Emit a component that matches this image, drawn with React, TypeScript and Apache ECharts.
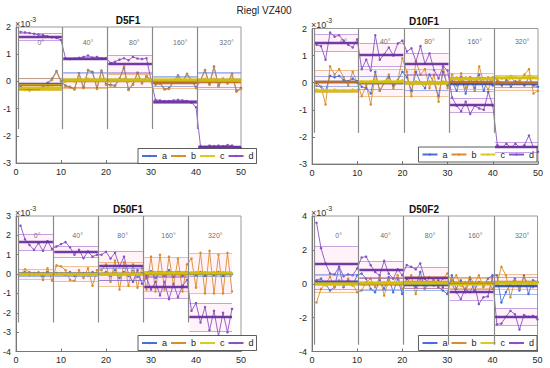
import React, { useEffect, useRef } from 'react';
import * as echarts from 'echarts';

const MAIN_TITLE = 'Riegl VZ400';
const PANEL_TITLES = ['D5F1', 'D10F1', 'D50F1', 'D50F2'];
const SERIES_NAMES = ['a', 'b', 'c', 'd'];
const ANGLE_LABELS = ['0°', '40°', '80°', '160°', '320°'];
const X_TICKS = [0, 10, 20, 30, 40, 50];

const X_50 = [1,2,3,4,5,6,7,8,9,10,11,12,13,14,15,16,17,18,19,20,21,22,23,24,25,26,27,28,29,30,31,32,33,34,35,36,37,38,39,40,41,42,43,44,45,46,47,48,49,50];
const X_48 = [1,2,3,4,5,6,7,8,9,10,11,12,13,14,15,16,17,18,19,20,21,22,23,24,25,26,27,28,29,30,31,32,33,34,35,36,37,38,39,40,41,42,43,44,45,46,47,48];

const SEG_50 = [[0.5, 10.2], [10.5, 20.2], [20.5, 30.2], [30.5, 40.2], [40.5, 50]];
const SEG_48 = [[0.5, 8.2], [8.5, 18.2], [18.5, 28.2], [28.5, 38.2], [38.5, 48]];
const SEP_50 = [0.5, 10.3, 20.3, 30.3, 40.3];
const SEP_48 = [0.4, 8.3, 18.3, 28.3, 38.3];

// ---------- D5F1 ----------
const D5F1_A = [-0.2,-0.25,-0.3,-0.3,-0.25,-0.2,-0.05,0.1,0.38,0.02,-0.15,-0.2,-0.28,0.3,-0.22,0.42,0.35,-0.25,0.4,-0.1,-0.12,-0.15,0.1,0.5,-0.3,-0.1,0.32,-0.05,0.2,0.05,-0.1,-0.05,-0.28,-0.25,0,0.22,0,0.28,0.05,-0.22,0.05,0.42,-0.1,0.55,-0.15,0.1,-0.05,0.28,-0.35,-0.25];
const D5F1_B = [-0.25,-0.3,-0.32,-0.28,-0.3,-0.22,-0.1,0.05,0.35,0,-0.18,-0.22,-0.3,0.28,-0.25,0.4,0.32,-0.28,0.38,-0.12,-0.15,-0.18,0.08,0.55,-0.32,-0.12,0.3,-0.08,0.18,0.02,-0.12,-0.08,-0.3,-0.28,-0.02,0.2,-0.02,0.26,0.02,-0.25,0.02,0.4,-0.12,0.52,-0.18,0.08,-0.08,0.25,-0.38,-0.28];
const D5F1_C = [-0.3,-0.32,-0.35,-0.3,-0.28,-0.25,-0.2,-0.15,-0.1,-0.15,0,0.05,0,0.1,0.05,0.1,0.05,0,0.1,0.05,0,0.05,0.05,0.1,0,0.05,0.1,0.05,0.05,0,0.05,0,0.05,0,0.05,0.1,0.05,0.05,0,0.05,0.05,0.1,0,0.1,0.05,0.05,0,0.1,0,0.05];
const D5F1_D = [1.82,1.8,1.78,1.75,1.72,1.7,1.66,1.62,1.6,1.52,0.85,0.82,0.84,0.87,0.9,0.95,0.88,0.9,0.85,0.86,0.68,0.72,0.8,0.85,0.78,0.9,0.84,0.82,0.85,0.05,-0.68,-0.7,-0.72,-0.72,-0.7,-0.68,-0.7,-0.72,-0.78,-0.95,-2.38,-2.4,-2.36,-2.38,-2.36,-2.38,-2.34,-2.36,-2.42,-2.45];
const D5F1_MEAN_A = [-0.1, 0.05, 0.05, 0, 0.05];
const D5F1_STD_A = [0.2, 0.28, 0.25, 0.18, 0.28];
const D5F1_MEAN_B = [-0.12, 0.02, 0.02, -0.05, 0];
const D5F1_STD_B = [0.22, 0.28, 0.25, 0.2, 0.3];
const D5F1_MEAN_C = [-0.22, 0.05, 0.05, 0.05, 0.05];
const D5F1_STD_C = [0.1, 0.05, 0.05, 0.05, 0.05];
const D5F1_MEAN_D = [1.65, 0.85, 0.65, -0.75, -2.4];
const D5F1_STD_D = [0.13, 0.05, 0.3, 0.05, 0.03];

// ---------- D10F1 ----------
const D10F1_A = [0,-0.15,-0.3,0.25,0.2,0.25,0.1,0.05,0.15,0.05,-0.15,-0.2,-0.4,0.4,-0.3,0,0.2,-0.1,0.1,0.4,0.2,-0.3,0.4,0,-0.2,0.3,0,-0.5,0.4,-0.1,0.05,-0.3,0.2,-0.4,0.2,-0.2,0.3,-0.3,0.2,-0.1,0.05,-0.1,0.1,-0.15,0.05,0,-0.1,0.2,-0.1,-0.15];
const D10F1_B = [-0.1,-0.15,-0.8,0.6,0.3,0.5,0.2,-0.1,0.4,0,-0.5,-0.1,-0.8,0.3,-0.3,0,0.3,-0.2,0.1,0.9,0.4,-0.5,0.8,0.3,0.5,-0.2,0.3,-0.7,0.6,-0.2,0.3,-0.1,0.35,-0.2,0.2,-0.3,0.6,0,-0.25,0.2,0.1,0,-0.05,0.2,0,0.1,0.3,0.5,-0.4,-0.3];
const D10F1_C = [-0.25,-0.3,-0.28,-0.3,-0.25,-0.3,-0.28,-0.3,-0.25,-0.28,0.05,0,0.05,0.1,0,0.05,0.1,0,0.05,0.1,0,-0.05,0.05,0,-0.05,0.05,0,-0.05,0.05,0,0.15,0.2,0.1,0.2,0.15,0.1,0.2,0.15,0.2,0.1,0.2,0.15,0.2,0.25,0.2,0.15,0.2,0.25,0.2,0.15];
const D10F1_D = [1.4,1.35,0.85,1.85,1.7,1.75,1.55,1.4,1.3,1.6,0.5,0.85,0.45,1.75,0.85,1.05,1.3,1,1.45,1.55,1.15,1.27,0.78,1.35,0.7,1.08,0.47,0.16,0.6,0.45,-0.55,-0.85,-1.05,-0.7,-1.15,-0.85,-0.95,-1,-0.35,-0.85,-2.3,-2.4,-2.25,-2.4,-2.25,-2.4,-2.3,-1.95,-2.4,-2.55];
const D10F1_MEAN_A = [0.05, 0, 0, -0.05, -0.05];
const D10F1_STD_A = [0.18, 0.25, 0.28, 0.25, 0.1];
const D10F1_MEAN_B = [0.05, 0, 0, 0.05, 0];
const D10F1_STD_B = [0.4, 0.5, 0.5, 0.3, 0.28];
const D10F1_MEAN_C = [-0.28, 0.05, 0, 0.15, 0.2];
const D10F1_STD_C = [0.03, 0.04, 0.04, 0.04, 0.04];
const D10F1_MEAN_D = [1.47, 1.03, 0.7, -0.82, -2.38];
const D10F1_STD_D = [0.3, 0.42, 0.38, 0.26, 0.17];

// ---------- D50F1 ----------
const D50F1_A = [0,0.1,-0.05,0.05,0,-0.1,0.1,-0.05,0.05,0,-0.05,0.1,-0.1,0,0.05,-0.05,0.1,0,0,0.1,-0.1,0.2,-0.2,0.1,-0.1,0.15,-0.15,0.05,-0.1,0.15,-0.2,0.1,-0.1,0.2,-0.15,0.1,-0.1,0.05,0.05,-0.05,0.1,-0.1,0.05,-0.05,0.1,-0.1,0.05,0];
const D50F1_B = [0,0.25,0.1,0,0.1,-0.3,0.3,-0.35,0.45,0.4,0.2,-0.3,-0.35,0.2,-0.2,0.3,-0.6,0.2,0.2,0.5,-0.4,0.7,-0.8,0.6,-0.6,0.5,-0.7,0.4,-0.8,0.9,-0.9,1,-0.8,0.9,-0.6,0.8,-0.9,0.5,0.8,-0.7,1.1,-1,1.2,-1,1,-1,1.1,-0.9];
const D50F1_C = [0,0.05,0,-0.05,0,0.05,0,-0.05,0,0.05,0,-0.05,0,0.05,0,-0.05,0,0.05,0,0.05,-0.05,0.1,-0.1,0.05,-0.05,0.1,-0.05,0,0.05,0.1,0,0.1,0,0.1,0,0.1,0.05,0.05,0.05,0.1,0,0.1,0.05,0.1,0,0.1,0.05,0.05];
const D50F1_D = [2.5,1.8,1.5,1.25,1.6,1.2,1.7,1.3,1.43,1.55,1.65,1.38,1,1.25,0.82,1.17,0.9,1,1,1.15,0.8,1.1,0.4,0.9,0,-0.4,0.2,-0.5,-0.2,-0.8,-0.4,-1.1,-0.4,-1.3,-0.5,-1.2,-0.6,-0.3,-1.9,-1.5,-2.5,-1.7,-2.9,-1.9,-3.2,-2,-3,-1.8];
const D50F1_MEAN_A = [0, 0, 0, 0, 0];
const D50F1_STD_A = [0.1, 0.1, 0.3, 0.15, 0.1];
const D50F1_MEAN_B = [0, 0, 0, 0, 0.05];
const D50F1_STD_B = [0.25, 0.38, 0.62, 0.87, 1.03];
const D50F1_MEAN_C = [0, 0, 0, 0.05, 0.05];
const D50F1_STD_C = [0.05, 0.05, 0.05, 0.05, 0.05];
const D50F1_MEAN_D = [1.65, 1.15, 0.45, -0.68, -2.22];
const D50F1_STD_D = [0.42, 0.3, 0.75, 0.58, 0.73];

// ---------- D50F2 ----------
const D50F2_A = [0.2,0.3,0,-0.4,-0.2,1,-0.2,0.2,-0.1,0.5,0.6,0.3,-0.3,-0.5,0.2,-0.3,0.4,-0.5,0.3,-0.6,0.3,0,-0.2,0.7,-0.3,0,0.2,-0.2,-0.4,-0.6,0.5,-0.3,0.2,-0.5,0.3,-0.4,0.1,-0.1,0.3,0.5,0.5,-1.1,-0.5,0,0.3,-0.4,0.5,-0.6,0.2,0.1];
const D50F2_B = [-1.1,-0.3,0,0.4,-0.2,0.2,-0.1,0.3,0,-0.5,-0.4,0.1,0.3,-0.2,0.4,-0.7,0.2,0,0.5,-0.3,0,0.5,-0.6,0.3,-0.3,0.4,0.2,-0.1,0.3,0.6,0.2,0.5,-0.1,-0.3,0.4,0,0.5,-0.2,0.1,-0.3,0,1,0.5,-0.8,0.2,-0.3,0.4,0,-0.2,0.1];
const D50F2_C = [0,0.1,-0.1,0.05,0,-0.05,0.1,0,-0.1,0.05,0.05,0,0.1,-0.05,0.05,0.1,0,0.05,-0.05,0.1,0.05,0.1,0,0.1,-0.05,0.05,0.1,0,0.05,0.1,0,0.05,-0.05,0.1,0,-0.05,0.05,0,0.1,0,0.05,0.1,0,0.05,0.1,0,0.05,0.1,0,0.05];
const D50F2_D = [3.6,2.1,1.2,0.6,0.55,1,0.45,0.55,0.5,0.9,1.55,1.6,1.1,0.7,0.5,1.35,0.6,0.3,0.85,0.5,1.1,1,0.85,1.2,0.3,0,-0.1,0.2,-0.2,0.1,0,-0.5,-0.9,-0.3,-0.5,0,-1.2,-0.8,-0.75,0.4,-2.4,-2.35,-1.95,-1.6,-1.8,-2.7,-1.85,-1.95,-1.9,-2.1];
const D50F2_MEAN_A = [0.12, 0, -0.05, 0.05, -0.1];
const D50F2_STD_A = [0.45, 0.4, 0.35, 0.35, 0.5];
const D50F2_MEAN_B = [0, 0, 0.1, 0.05, 0.1];
const D50F2_STD_B = [0.5, 0.35, 0.35, 0.3, 0.45];
const D50F2_MEAN_C = [0, 0.05, 0.05, 0, 0.05];
const D50F2_STD_C = [0.1, 0.1, 0.1, 0.1, 0.1];
const D50F2_MEAN_D = [1.2, 0.8, 0.38, -0.45, -1.95];
const D50F2_STD_D = [1.0, 0.5, 0.62, 0.5, 0.5];

// angle label positions (data coords)
const LABEL_X = [
  [5.5, 16, 26.3, 36.5, 46.8],
  [7, 16.2, 26, 36, 46.5],
  [4.7, 13.7, 23.7, 33.9, 44.3],
  [5.9, 16.3, 26.2, 36.2, 46.6],
];
const LABEL_Y = [1.42, 1.52, 2.0, 2.85];
const SEP_BOTTOM = [-1.75, -1.85, -2.5, -3.6];
const Y_MIN = [-3, -3, -4, -4];
const Y_MAX = [2, 2, 3, 4];
const Y_INT = [1, 1, 1, 2];

const COLORS = ['#4a6fd6', '#d98c2b', '#dccb1c', '#8a52c4'];
const MEAN_COLORS = ['#3552b0', '#c0701e', '#d2bf0c', '#6a2f9e'];
const FONT = 'Liberation Sans, Arial, sans-serif';

const GRIDS = [
  { left: 16, top: 27, width: 225, height: 136 },
  { left: 312, top: 28.5, width: 226, height: 135.5 },
  { left: 16, top: 216, width: 225, height: 135.5 },
  { left: 312, top: 216, width: 225.5, height: 135.5 },
];

const PANELS = [
  { xs: X_50, seg: SEG_50, sep: SEP_50, data: [D5F1_A, D5F1_B, D5F1_C, D5F1_D], mean: [D5F1_MEAN_A, D5F1_MEAN_B, D5F1_MEAN_C, D5F1_MEAN_D], std: [D5F1_STD_A, D5F1_STD_B, D5F1_STD_C, D5F1_STD_D] },
  { xs: X_50, seg: SEG_50, sep: SEP_50, data: [D10F1_A, D10F1_B, D10F1_C, D10F1_D], mean: [D10F1_MEAN_A, D10F1_MEAN_B, D10F1_MEAN_C, D10F1_MEAN_D], std: [D10F1_STD_A, D10F1_STD_B, D10F1_STD_C, D10F1_STD_D] },
  { xs: X_48, seg: SEG_48, sep: SEP_48, data: [D50F1_A, D50F1_B, D50F1_C, D50F1_D], mean: [D50F1_MEAN_A, D50F1_MEAN_B, D50F1_MEAN_C, D50F1_MEAN_D], std: [D50F1_STD_A, D50F1_STD_B, D50F1_STD_C, D50F1_STD_D] },
  { xs: X_50, seg: SEG_50, sep: SEP_50, data: [D50F2_A, D50F2_B, D50F2_C, D50F2_D], mean: [D50F2_MEAN_A, D50F2_MEAN_B, D50F2_MEAN_C, D50F2_MEAN_D], std: [D50F2_STD_A, D50F2_STD_B, D50F2_STD_C, D50F2_STD_D] },
];

function buildOption() {
  const series: any[] = [];
  const graphic: any[] = [];
  PANELS.forEach((p, pi) => {
    SERIES_NAMES.forEach((name, k) => {
      const vals = p.data[k];
      const ml: any[] = [];
      const ma: any[] = [];
      p.seg.forEach(([x0, x1], s) => {
        const m = p.mean[k][s];
        const sd = p.std[k][s];
        const stdStyle = { color: COLORS[k], width: 1.2, opacity: 0.5, type: 'solid' };
        ml.push([{ coord: [x0, m + sd], lineStyle: stdStyle }, { coord: [x1, m + sd] }]);
        ml.push([{ coord: [x0, m - sd], lineStyle: stdStyle }, { coord: [x1, m - sd] }]);
        ml.push([{ coord: [x0, m], lineStyle: { color: MEAN_COLORS[k], width: 2.4, opacity: 0.95, type: 'solid' } }, { coord: [x1, m] }]);
        if (k === 1 || k === 3) {
          ma.push([{ coord: [x0, m - sd], itemStyle: { color: 'rgba(255,120,190,0.09)' } }, { coord: [x1, m + sd] }]);
        }
      });
      series.push({
        type: 'line',
        name,
        xAxisIndex: pi,
        yAxisIndex: pi,
        data: p.xs.map((x, i) => [x, vals[i]]),
        symbol: 'circle',
        symbolSize: 2.5,
        lineStyle: { color: COLORS[k], width: 0.9 },
        itemStyle: { color: COLORS[k] },
        z: 3,
        markLine: { silent: true, symbol: ['none', 'none'], label: { show: false }, animation: false, data: ml },
        markArea: ma.length ? { silent: true, animation: false, data: ma } : undefined,
      });
    });
    const sepLines = p.sep.map((x) => [
      { coord: [x, Y_MAX[pi]], lineStyle: { color: '#8a8a8a', width: 1.2, type: 'solid' } },
      { coord: [x, SEP_BOTTOM[pi]] },
    ]);
    series.push({
      type: 'scatter',
      name: 'labels' + pi,
      xAxisIndex: pi,
      yAxisIndex: pi,
      symbolSize: 1,
      itemStyle: { color: 'rgba(0,0,0,0)' },
      z: 2,
      data: ANGLE_LABELS.map((t, i) => ({ name: t, value: [LABEL_X[pi][i], LABEL_Y[pi]] })),
      label: { show: true, position: 'inside', formatter: '{b}', fontSize: 7, color: '#444', fontFamily: FONT },
      markLine: { silent: true, symbol: ['none', 'none'], label: { show: false }, animation: false, data: sepLines },
    });
    const g = GRIDS[pi];
    graphic.push({
      type: 'text', x: g.left + 112, y: g.top - 7,
      style: { text: PANEL_TITLES[pi], fontSize: 10, fontWeight: 'bold', fill: '#111', align: 'center', verticalAlign: 'middle', fontFamily: FONT },
    });
    graphic.push({
      type: 'text', x: g.left - 1, y: g.top - 3.5,
      style: { text: '×10', fontSize: 9, fill: '#333', align: 'left', verticalAlign: 'middle', fontFamily: FONT },
    });
    graphic.push({
      type: 'text', x: g.left + 14, y: g.top - 8,
      style: { text: '-3', fontSize: 7, fill: '#333', align: 'left', verticalAlign: 'middle', fontFamily: FONT },
    });
  });
  graphic.push({
    type: 'text', x: 264, y: 10,
    style: { text: MAIN_TITLE, fontSize: 10, fill: '#222', align: 'center', verticalAlign: 'middle', fontFamily: FONT },
  });

  const legendPos: any[] = [
    { left: 138, top: 148.5 },
    { right: 13, top: 147 },
    { left: 138, top: 335.5 },
    { right: 13, top: 335.5 },
  ];

  return {
    animation: false,
    backgroundColor: '#fff',
    textStyle: { fontFamily: FONT },
    grid: GRIDS.map((g) => ({ ...g, show: true, borderColor: '#9a9a9a', borderWidth: 1, containLabel: false })),
    xAxis: GRIDS.map((_, i) => ({
      type: 'value', gridIndex: i, min: X_TICKS[0], max: X_TICKS[X_TICKS.length - 1], interval: 10,
      axisLine: { show: true, onZero: false, lineStyle: { color: '#777' } },
      axisTick: { show: true, inside: true, length: 3, lineStyle: { color: '#777' } },
      axisLabel: { fontSize: 9, color: '#262626', margin: 4, fontFamily: FONT },
      splitLine: { show: false },
    })),
    yAxis: GRIDS.map((_, i) => ({
      type: 'value', gridIndex: i, min: Y_MIN[i], max: Y_MAX[i], interval: Y_INT[i],
      axisLine: { show: true, onZero: false, lineStyle: { color: '#777' } },
      axisTick: { show: true, inside: true, length: 3, lineStyle: { color: '#777' } },
      axisLabel: { fontSize: 9, color: '#262626', margin: 5, fontFamily: FONT },
      splitLine: { show: false },
    })),
    legend: legendPos.map((lp) => ({
      ...lp,
      data: SERIES_NAMES,
      orient: 'horizontal',
      width: 120,
      itemWidth: 15,
      itemHeight: 3,
      itemGap: 3,
      padding: [3, 3],
      borderColor: '#333',
      borderWidth: 0.8,
      backgroundColor: '#fff',
      textStyle: { fontSize: 9, color: '#222', fontFamily: FONT },
      selectedMode: false,
    })),
    series,
    graphic,
  };
}

export default function App() {
  const ref = useRef<HTMLDivElement>(null);
  useEffect(() => {
    if (!ref.current) return;
    const chart = echarts.init(ref.current, undefined, { renderer: 'svg' });
    chart.setOption(buildOption() as any);
    return () => chart.dispose();
  }, []);
  return <div ref={ref} style={{ position: 'absolute', left: 0, top: 0, width: 550, height: 368 }} />;
}
